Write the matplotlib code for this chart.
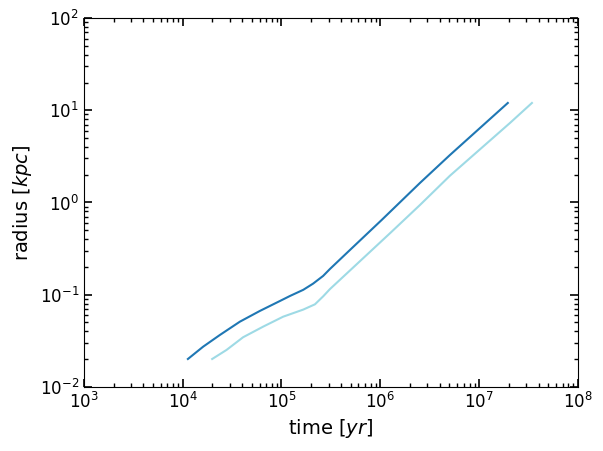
import matplotlib
matplotlib.use("Agg")
import matplotlib.pyplot as plt

# values (time in yr, radius in kpc)
t_dark = [1.13e4, 1.61e4, 2.38e4, 3.79e4, 6.04e4, 9.64e4, 1.22e5, 1.66e5, 2.09e5,
          2.64e5, 3.09e5, 4.92e5, 1.03e6, 2.52e6, 5.06e6, 1.95e7]
r_dark = [0.0201, 0.0273, 0.0366, 0.051, 0.0667, 0.0855, 0.097, 0.113, 0.132,
          0.160, 0.190, 0.305, 0.645, 1.63, 3.27, 12.0]

t_light = [1.99e4, 2.78e4, 4.09e4, 6.53e4, 1.04e5, 1.66e5, 2.18e5, 2.64e5,
           3.09e5, 1.25e6, 2.52e6, 5.06e6, 2.05e7, 3.42e7]
r_light = [0.0201, 0.0252, 0.0346, 0.0451, 0.0578, 0.069, 0.0787, 0.096,
           0.115, 0.463, 0.94, 1.95, 7.28, 12.0]

fig = plt.figure(figsize=(6.03, 4.51), dpi=100)
ax = fig.add_axes([0.139, 0.142, 0.8195, 0.818])

ax.plot(t_dark, r_dark, color="#1f77b4", lw=1.5)
ax.plot(t_light, r_light, color="#9edae5", lw=1.5)

ax.set_xscale("log")
ax.set_yscale("log")
ax.set_xlim(1e3, 1e8)
ax.set_ylim(1e-2, 1e2)

ax.set_xlabel("time [$yr$]", fontsize=14)
ax.set_ylabel("radius [$kpc$]", fontsize=14)

ax.tick_params(which="both", direction="in", top=True, right=True, labelsize=12)
ax.tick_params(which="major", length=6, width=1.2)
ax.tick_params(which="minor", length=3, width=1)

fig.savefig("out.png", dpi=100)
